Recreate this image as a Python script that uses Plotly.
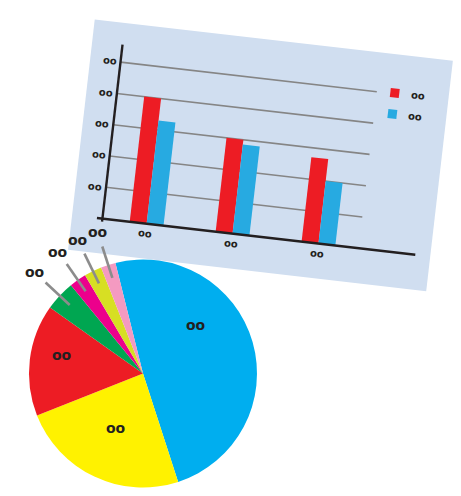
import math
import plotly.graph_objects as go

# ---------------- data ----------------
categories = ["oo", "oo", "oo"]
series_names = ["oo", "oo"]
series_red = [4.0, 3.0, 2.7]
series_blue = [3.3, 2.85, 2.0]
y_ticks = [1, 2, 3, 4, 5]
y_tick_labels = ["oo", "oo", "oo", "oo", "oo"]

pie_labels = ["oo", "oo", "oo", "oo", "oo", "oo", "oo"]
pie_values = [48.9, 24.0, 15.8, 4.3, 2.4, 2.5, 2.1]

# ---------------- style ----------------
W, H = 461, 496
BAR_COLORS = ["#ED1C24", "#27AAE1"]
PIE_COLORS = ["#00AEEF", "#FFF200", "#ED1C24", "#00A651", "#EC008C", "#D7DF23", "#F49AC1"]
PANEL = "#D0DEF0"
INK = "#231F20"
GRID = "#858585"

# rotated frame of the bar panel (pixel space)
OX, OY = 102.4, 218.6
ANG = 6.6
UNIT = 31.5        # px per value unit
CAT0, CAT_STEP, BAR_W = 44.5, 86.5, 17.0
cs, sn = math.cos(math.radians(ANG)), math.sin(math.radians(ANG))


def P(t, v):
    return OX + t * cs + v * sn, OY + t * sn - v * cs


def poly(pts):
    xs = [p[0] for p in pts] + [pts[0][0]]
    ys = [p[1] for p in pts] + [pts[0][1]]
    return xs, ys


fig = go.Figure()
annotations = []
shapes = []

# panel
xs, ys = poly([P(-30.5, -35), P(330, -35), P(330, 197), P(-30.5, 197)])
fig.add_trace(go.Scatter(x=xs, y=ys, mode="lines", fill="toself", fillcolor=PANEL,
                         line=dict(width=0), hoverinfo="skip"))

# gridlines
for k in y_ticks:
    a, b = P(0, k * UNIT), P(258, k * UNIT)
    fig.add_trace(go.Scatter(x=[a[0], b[0]], y=[a[1], b[1]], mode="lines",
                             line=dict(color=GRID, width=1.6), hoverinfo="skip"))

# bars
for si, vals in enumerate([series_red, series_blue]):
    for ci, v in enumerate(vals):
        c = CAT0 + CAT_STEP * ci
        t0 = c - BAR_W + si * BAR_W
        t1 = t0 + BAR_W
        xs, ys = poly([P(t0, 0), P(t1, 0), P(t1, v * UNIT), P(t0, v * UNIT)])
        fig.add_trace(go.Scatter(x=xs, y=ys, mode="lines", fill="toself",
                                 fillcolor=BAR_COLORS[si], line=dict(width=0),
                                 hoverinfo="skip"))

# axes lines
a, b = P(-5.5, 0), P(315, 0)
fig.add_trace(go.Scatter(x=[a[0], b[0]], y=[a[1], b[1]], mode="lines",
                         line=dict(color=INK, width=2.6), hoverinfo="skip"))
a, b = P(0, -3), P(0, 5.56 * UNIT)
fig.add_trace(go.Scatter(x=[a[0], b[0]], y=[a[1], b[1]], mode="lines",
                         line=dict(color=INK, width=2.4), hoverinfo="skip"))

small_font = dict(family="DejaVu Sans", size=10, color=INK)
for k, lab in zip(y_ticks, y_tick_labels):
    x, y = P(-11, k * UNIT)
    annotations.append(dict(x=x, y=y, xref="x", yref="y", text="<b>%s</b>" % lab,
                            showarrow=False, textangle=ANG, font=small_font))
for ci, lab in enumerate(categories):
    x, y = P(CAT0 + CAT_STEP * ci, -10)
    annotations.append(dict(x=x, y=y, xref="x", yref="y", text="<b>%s</b>" % lab,
                            showarrow=False, textangle=ANG, font=small_font))

# legend
for si, name in enumerate(series_names):
    v = 158.4 - si * 21.1
    xs, ys = poly([P(271.5, v - 4.5), P(280.5, v - 4.5), P(280.5, v + 4.5), P(271.5, v + 4.5)])
    fig.add_trace(go.Scatter(x=xs, y=ys, mode="lines", fill="toself",
                             fillcolor=BAR_COLORS[si], line=dict(width=0), hoverinfo="skip"))
    x, y = P(299, v)
    annotations.append(dict(x=x, y=y, xref="x", yref="y", text="<b>%s</b>" % name,
                            showarrow=False, textangle=ANG, font=small_font))

# ---------------- pie ----------------
PCX, PCY, PR = 143, 373.5, 114
ROT = -14
fig.add_trace(go.Pie(values=pie_values, labels=[str(i) for i in range(len(pie_values))],
                     marker=dict(colors=PIE_COLORS, line=dict(width=0)),
                     sort=False, direction="clockwise", rotation=ROT,
                     textinfo="none", hoverinfo="skip", showlegend=False,
                     domain=dict(x=[(PCX - PR) / W, (PCX + PR) / W],
                                 y=[(H - PCY - PR) / H, (H - PCY + PR) / H])))

total = sum(pie_values)
cum = 0
big_label_pos = {0: (27, 0.63), 1: (1, 0.53), 2: (6, 0.73)}  # angle offset, radius frac
pie_font = dict(family="DejaVu Sans", size=14, color=INK)


def pxy(ang, r):
    return PCX + r * math.sin(math.radians(ang)), PCY - r * math.cos(math.radians(ang))


for i, (lab, v) in enumerate(zip(pie_labels, pie_values)):
    mid = ROT + 360 * (cum + v / 2) / total
    cum += v
    if i in big_label_pos:
        off, fr = big_label_pos[i]
        x, y = pxy(mid - off if i == 0 else mid + off, fr * PR)
    else:
        x0, y0 = pxy(mid, 0.88 * PR)
        x1, y1 = pxy(mid, 1.17 * PR)
        shapes.append(dict(type="line", xref="x", yref="y", x0=x0, y0=y0, x1=x1, y1=y1,
                           layer="above", line=dict(color="#8C8C8C", width=2.6)))
        x, y = pxy(mid, 1.3 * PR)
    annotations.append(dict(x=x, y=y, xref="x", yref="y", text="<b>%s</b>" % lab,
                            showarrow=False, font=pie_font))

fig.update_layout(
    width=W, height=H, margin=dict(l=0, r=0, t=0, b=0),
    paper_bgcolor="white", plot_bgcolor="white", showlegend=False,
    xaxis=dict(range=[0, W], visible=False, fixedrange=True, domain=[0, 1]),
    yaxis=dict(range=[H, 0], visible=False, fixedrange=True, domain=[0, 1]),
    annotations=annotations, shapes=shapes,
)
fig.write_html("out.html")
